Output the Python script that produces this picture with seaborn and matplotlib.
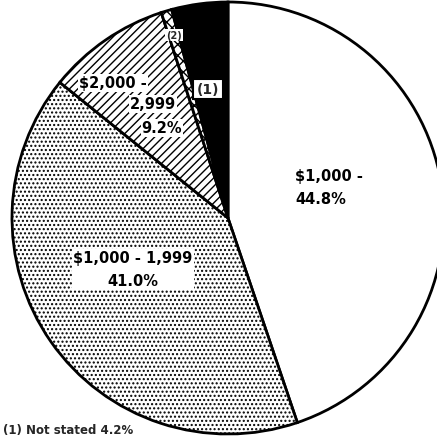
import matplotlib
import seaborn as sns
import matplotlib.pyplot as plt

sns.set_theme(style="white")
plt.rcParams["font.family"] = ["DejaVu Sans"]
plt.rcParams["hatch.linewidth"] = 1.0

# income groups, clockwise from 12 o'clock
categories = ["$1,000 -", "$1,000 - 1,999", "$2,000 - 2,999", "(2)", "(1)"]
shares = [44.8, 41.0, 9.2, 0.8, 4.2]
fills = ["white", "white", "white", "white", "black"]
hatches = [None, "....", "////", "xxx", None]

W, H = 437, 439
CX, CY, R = 228, 219, 216  # pie centre / radius in pixels


def px(x, y):
    # pixel position -> data coords of the pie (radius 1)
    return (x - CX) / R, (CY - y) / R


fig = plt.figure(figsize=(W / 100, H / 100), dpi=100)
ax = fig.add_axes([0, 0, 1, 1])

wedges, _ = ax.pie(
    shares,
    colors=fills,
    startangle=90,
    counterclock=False,
    radius=1,
    wedgeprops=dict(edgecolor="black", linewidth=2),
)
for w, h in zip(wedges, hatches):
    if h:
        w.set_hatch(h)

ax.set_xlim(-CX / R, (W - CX) / R)
ax.set_ylim((CY - H) / R, CY / R)
ax.set_aspect("auto")
ax.axis("off")

txt = dict(fontsize=10.5, fontweight="bold", color="black")
white_box = dict(facecolor="white", edgecolor="none", pad=0.8)

ax.text(*px(295, 188), f"{categories[0]}\n{shares[0]}%", ha="left", va="center",
        linespacing=1.6, **txt)
ax.text(*px(133, 270), f"{categories[1]}\n{shares[1]}%", ha="center", va="center",
        linespacing=1.6, bbox=white_box, **txt)
ax.text(*px(113, 84), "$2,000 -", ha="center", va="center", bbox=white_box, **txt)
ax.text(*px(153, 105), "2,999", ha="center", va="center", bbox=white_box, **txt)
ax.text(*px(162, 129), f"{shares[2]}%", ha="center", va="center", bbox=white_box, **txt)

ax.text(*px(208, 90), categories[4], ha="center", va="center", fontsize=10,
        fontweight="bold",
        bbox=dict(facecolor="white", edgecolor="black", pad=2.5, linewidth=1.5))
ax.text(*px(174, 36), categories[3], ha="center", va="center", fontsize=7,
        fontweight="bold", bbox=dict(facecolor="white", edgecolor="none", pad=0.6))

ax.text(*px(3, 437), f"(1) Not stated {shares[4]}%", ha="left", va="bottom",
        fontsize=8.5, fontweight="bold")

fig.savefig("out.png", dpi=100)
